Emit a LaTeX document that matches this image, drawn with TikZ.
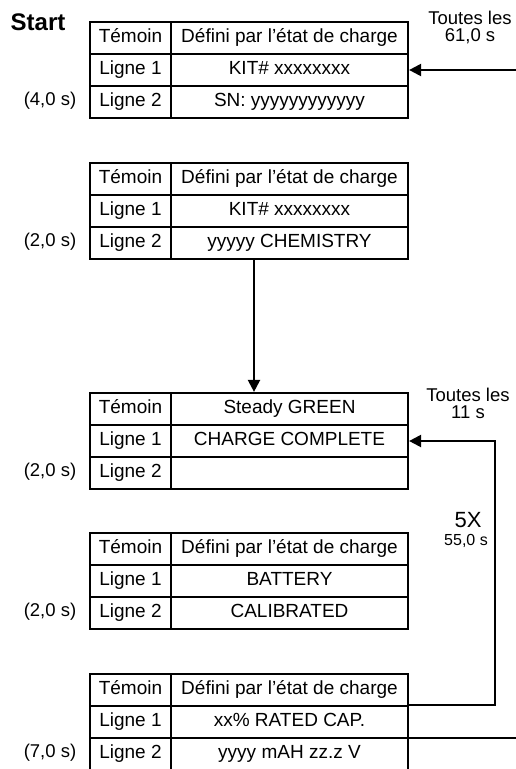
\documentclass[tikz,border=0pt]{standalone}
\usepackage{fontspec}
\setmainfont{Liberation Sans}
\usetikzlibrary{arrows.meta}

\begin{document}
\begin{tikzpicture}[x=1pt,y=-1pt,
    cellule/.style={draw, line width=2.2pt, minimum height=32pt, inner sep=0pt,
      text height=13pt, text depth=4pt, font=\fontsize{19}{20}\selectfont},
    gauche/.style={cellule, minimum width=81pt},
    droite/.style={cellule, minimum width=237pt},
    note/.style={align=center, font=\fontsize{18.5}{17}\selectfont},
    trait/.style={line width=2.2pt},
    fleche/.style={trait, -{Triangle[length=12pt,width=12pt]}}]
  \useasboundingbox (0,0) rectangle (516,769);

  \node[font=\fontsize{24}{26}\selectfont\bfseries] (start) at (38,22) {Start};

    % premier ecran
    \node[gauche] (e1tg) at (130.5,38) {Témoin};
    \node[droite] (e1td) at (289.5,38) {Défini par l’état de charge};
    \node[gauche] (e1l1g) at (130.5,70) {Ligne 1};
    \node[droite] (e1l1d) at (289.5,70) {KIT\# xxxxxxxx};
    \node[gauche] (e1l2g) at (130.5,102) {Ligne 2};
    \node[droite] (e1l2d) at (289.5,102) {SN: yyyyyyyyyyyy};
    \node[note] (t1) at (50,101) {(4,0 s)};
    \node[note] (p1) at (470,27) {Toutes les\\61,0 s};

    % deuxieme ecran
    \node[gauche] (e2tg) at (130.5,179) {Témoin};
    \node[droite] (e2td) at (289.5,179) {Défini par l’état de charge};
    \node[gauche] (e2l1g) at (130.5,211) {Ligne 1};
    \node[droite] (e2l1d) at (289.5,211) {KIT\# xxxxxxxx};
    \node[gauche] (e2l2g) at (130.5,243) {Ligne 2};
    \node[droite] (e2l2d) at (289.5,243) {yyyyy CHEMISTRY};
    \node[note] (t2) at (50,242) {(2,0 s)};

    % troisieme ecran
    \node[gauche] (e3tg) at (130.5,409) {Témoin};
    \node[droite] (e3td) at (289.5,409) {Steady GREEN};
    \node[gauche] (e3l1g) at (130.5,441) {Ligne 1};
    \node[droite] (e3l1d) at (289.5,441) {CHARGE COMPLETE};
    \node[gauche] (e3l2g) at (130.5,473) {Ligne 2};
    \node[droite] (e3l2d) at (289.5,473) {};
    \node[note] (t3) at (50,472) {(2,0 s)};
    \node[note] (p3) at (468,403) {Toutes les\\11 s};

    % quatrieme ecran
    \node[gauche] (e4tg) at (130.5,549) {Témoin};
    \node[droite] (e4td) at (289.5,549) {Défini par l’état de charge};
    \node[gauche] (e4l1g) at (130.5,581) {Ligne 1};
    \node[droite] (e4l1d) at (289.5,581) {BATTERY};
    \node[gauche] (e4l2g) at (130.5,613) {Ligne 2};
    \node[droite] (e4l2d) at (289.5,613) {CALIBRATED};
    \node[note] (t4) at (50,612) {(2,0 s)};

    % cinquieme ecran
    \node[gauche] (e5tg) at (130.5,690) {Témoin};
    \node[droite] (e5td) at (289.5,690) {Défini par l’état de charge};
    \node[gauche] (e5l1g) at (130.5,722) {Ligne 1};
    \node[droite] (e5l1d) at (289.5,722) {xx\% RATED CAP.};
    \node[gauche] (e5l2g) at (130.5,754) {Ligne 2};
    \node[droite] (e5l2d) at (289.5,754) {yyyy mAH zz.z V};
    \node[note] (t5) at (50,753) {(7,0 s)};

    \node[font=\fontsize{22}{22}\selectfont] (rep) at (468,520) {5X};
    \node[font=\fontsize{16}{18}\selectfont] (duree) at (466,541) {55,0 s};

    % liaisons
    \coordinate (entree) at (516,70);
    \draw[fleche] (entree) -- (e1l1d.east);
    \draw[fleche] ([xshift=-35.5pt]e2l2d.south) -- ([xshift=-35.5pt]e3td.north);
    \coordinate (boucle) at (495,441);
    \draw[fleche] (e5l1d.north east) -| (boucle) -- (e3l1d.east);
    \coordinate (sortie) at (516,738);
    \draw[trait] (e5l2d.north east |- sortie) -- (sortie);

  \end{tikzpicture}
\end{document}
